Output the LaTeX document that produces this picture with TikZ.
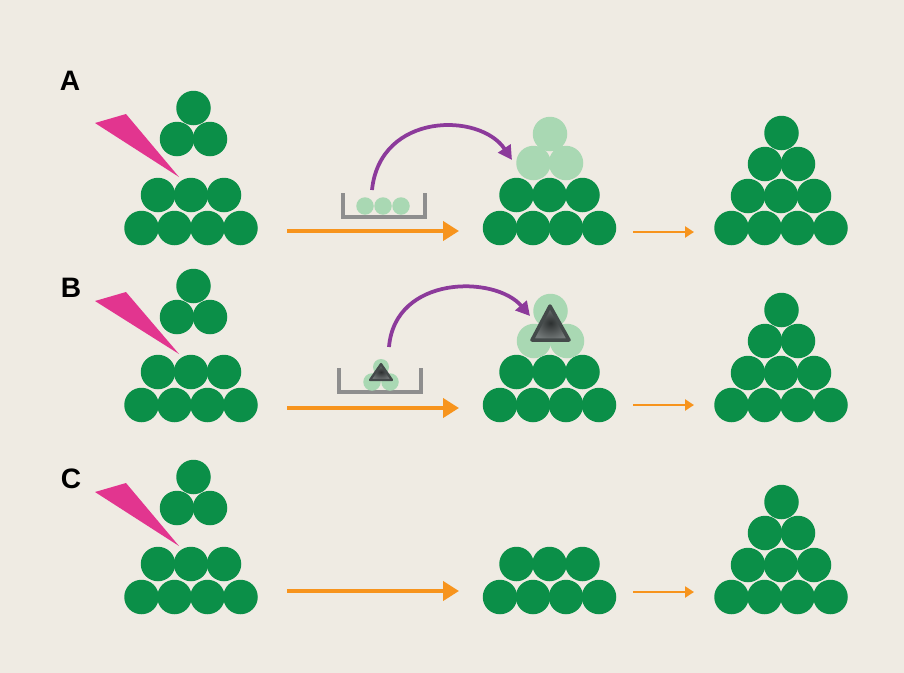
\documentclass[tikz,border=0pt]{standalone}
\usepackage{fontspec}
\setmainfont{Liberation Sans}
\usetikzlibrary{arrows.meta,positioning}
\definecolor{bgbeige}{HTML}{EFEBE3}
\definecolor{ballgreen}{HTML}{0B8F48}
\definecolor{palegreen}{HTML}{A9D8B3}
\definecolor{tippink}{HTML}{E2358F}
\definecolor{steporange}{HTML}{F7941D}
\definecolor{movepurple}{HTML}{8C3A9B}
\definecolor{traygray}{HTML}{8E8E8E}
\definecolor{markgray}{HTML}{505757}

\begin{document}
\begin{tikzpicture}[x=0.2mm, y=-0.2mm,
  ball/.style={circle, fill=ballgreen, minimum size=6.9mm, inner sep=0pt},
  ghost/.style={circle, fill=palegreen, minimum size=6.9mm, inner sep=0pt},
  bead/.style={circle, fill=palegreen, minimum size=3.5mm, inner sep=0pt},
  tag/.style={font=\fontsize{16}{19}\selectfont\bfseries},
  wedge/.style={fill=tippink},
  tray/.style={draw=traygray, line width=0.7mm},
  marker/.style={draw=markgray!85!black, line join=round, inner color=markgray!55!black, outer color=markgray!80!white},
  bigstep/.style={draw=steporange, line width=0.8mm, -{Triangle[length=3.2mm,width=3.8mm]}},
  smallstep/.style={draw=steporange, line width=0.55mm, -{Triangle[length=1.8mm,width=2.2mm]}},
  carry/.style={draw=movepurple, line width=0.75mm, -{Triangle[length=2.8mm,width=2.9mm]}}
]
  \fill[bgbeige] (0,0) rectangle (904,673);
  \useasboundingbox (0,0) rectangle (904,673);

  % Stacks in every row
  \foreach \r/\b/\t in {A/228/108, B/405/286, C/597/477} {
    \foreach \i in {0,...,3} {
      \node[ball] (\r-left-1\i) at (141.5+33*\i, \b) {};
      \node[ball] (\r-mid-1\i) at (500+33*\i, \b) {};
      \node[ball] (\r-right-1\i) at (731.5+33*\i, \b) {};
    }
    \foreach \i in {0,...,2} {
      \node[ball] (\r-left-2\i) at (158+33*\i, \b-33) {};
      \node[ball] (\r-mid-2\i) at (516.5+33*\i, \b-33) {};
      \node[ball] (\r-right-2\i) at (748+33*\i, \b-32) {};
    }
    \foreach \i in {0,1}
      \node[ball] (\r-right-3\i) at (765+33*\i, \b-64) {};
    \node[ball] (\r-right-4) at (781.5, \b-95) {};

    % loose top piece
    \node[ball] (\r-top-1) at (177, \t+31) {};
    \node[ball] (\r-top-2) at (210, \t+31) {};
    \node[ball] (\r-top-3) at (193.5, \t) {};

    % pipette tip
    \fill[wedge] (95, \t+15) -- (126, \t+6) -- (179, \b-51) -- cycle;
  }

  % Row labels
  \node[tag] (labA) at (70,81) {A};
  \node[tag] (labB) at (71,288) {B};
  \node[tag] (labC) at (71,479) {C};

  % Row A: pale top rebuilt from the tray
  \node[ghost] (A-ghost-1) at (533.5,163) {};
  \node[ghost] (A-ghost-2) at (566,163) {};
  \node[ghost] (A-ghost-3) at (550,134) {};
  \draw[tray] (343,193) -- (343,217) -- (425,217) -- (425,193);
  \node[bead] (A-bead-1) at (365,206) {};
  \node[bead] (A-bead-2) at (383,206) {};
  \node[bead] (A-bead-3) at (401,206) {};
  \coordinate (A-lift) at (372,190);
  \coordinate (A-drop) at (512,160);
  \draw[carry] (A-lift) .. controls (380,112) and (480,112) .. (A-drop);

  % Row B: pale top with the marker
  \node[ghost] (B-ghost-1) at (534,341) {};
  \node[ghost] (B-ghost-2) at (567,341) {};
  \node[ghost] (B-ghost-3) at (550.5,311) {};
  \shadedraw[marker, line width=0.7mm] (550,306) -- (569,340) -- (532,340) -- cycle;
  \draw[tray] (339,368) -- (339,392) -- (421,392) -- (421,368);
  \node[bead, minimum size=3.2mm] (B-bead-3) at (381,367) {};
  \node[bead] (B-bead-1) at (372,382) {};
  \node[bead] (B-bead-2) at (390,382) {};
  \shadedraw[marker, line width=0.45mm] (381,364) -- (392,380) -- (370,380) -- cycle;
  \coordinate (B-lift) at (389,347);
  \coordinate (B-drop) at (530,316);
  \draw[carry] (B-lift) .. controls (395,275) and (495,275) .. (B-drop);

  % Steps between the stacks
  \foreach \r/\y/\z in {A/231/232, B/408/405, C/591/592} {
    \coordinate (\r-go) at (287,\y);
    \coordinate (\r-stop) at (459,\y);
    \coordinate (\r-next) at (633,\z);
    \coordinate (\r-done) at (694,\z);
    \draw[bigstep] (\r-go) -- (\r-stop);
    \draw[smallstep] (\r-next) -- (\r-done);
  }

\end{tikzpicture}
\end{document}
